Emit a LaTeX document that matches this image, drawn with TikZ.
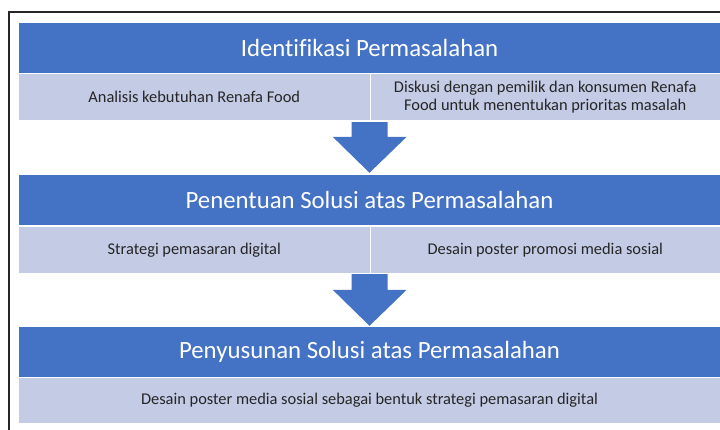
\documentclass[tikz,border=0pt]{standalone}
\usepackage{fontspec}
\setmainfont[Ligatures=NoCommon]{Carlito}
\usetikzlibrary{calc}

\definecolor{bandblue}{HTML}{4472C4}
\definecolor{bandlight}{HTML}{C3CBE5}
\definecolor{celltext}{HTML}{262626}

\tikzset{
  headbar/.style={fill=bandblue, text=white, minimum width=701pt, minimum height=50pt,
    inner sep=0pt, font=\fontsize{24.8}{29}\selectfont},
  cellbox/.style={fill=bandlight, text=celltext, minimum height=46pt, inner sep=0pt,
    align=center, font=\fontsize{16.4}{18.5}\selectfont},
}

% block arrow from a start point (top of stem) to a tip
\newcommand{\stagearrow}[2]{%
  \fill[bandblue] let \p1=(#1), \p2=(#2) in
    (\x1-18pt,\y1) -- (\x1+18pt,\y1) -- (\x1+18pt,\y2+36pt) -- (\x1+37pt,\y2+36pt)
    -- (\x2,\y2) -- (\x1-37pt,\y2+36pt) -- (\x1-18pt,\y2+36pt) -- cycle;
}

\begin{document}
\begin{tikzpicture}[x=1pt, y=-1pt]
  \useasboundingbox (0,0) rectangle (720,430);

  % outer frame (cut at right and bottom)
  \draw[line width=1.2pt, black!85] (9,430) -- (9,12) -- (720,12);

  % stage 1
  \node[headbar] (ident) at (369.5,48) {Identifikasi Permasalahan};
  \node[cellbox, minimum width=350.5pt] (identL) at (194.25,97) {Analisis kebutuhan Renafa Food};
  \node[cellbox, minimum width=349.5pt] (identR) at (545.25,97)
    {Diskusi dengan pemilik dan konsumen Renafa\\Food untuk menentukan prioritas masalah};

  % stage 2
  \node[headbar] (solusi) at (369.5,200) {Penentuan Solusi atas Permasalahan};
  \node[cellbox, minimum width=350.5pt] (solusiL) at (194.25,250) {Strategi pemasaran digital};
  \node[cellbox, minimum width=349.5pt] (solusiR) at (545.25,250) {Desain poster promosi media sosial};

  % stage 3
  \node[headbar] (susun) at (369.5,352) {Penyusunan Solusi atas Permasalahan};
  \node[cellbox, minimum width=701pt, minimum height=45pt] (susunB) at (369.5,400.5)
    {Desain poster media sosial sebagai bentuk strategi pemasaran digital};

  % arrows between stages
  \coordinate (a1s) at ([yshift=-2pt]identL.south east);
  \coordinate (a1t) at ([yshift=2pt]solusi.north);
  \stagearrow{a1s}{a1t}
  \coordinate (a2s) at ([yshift=-1pt]solusiL.south east);
  \coordinate (a2t) at ([yshift=1pt]susun.north);
  \stagearrow{a2s}{a2t}
\end{tikzpicture}
\end{document}
